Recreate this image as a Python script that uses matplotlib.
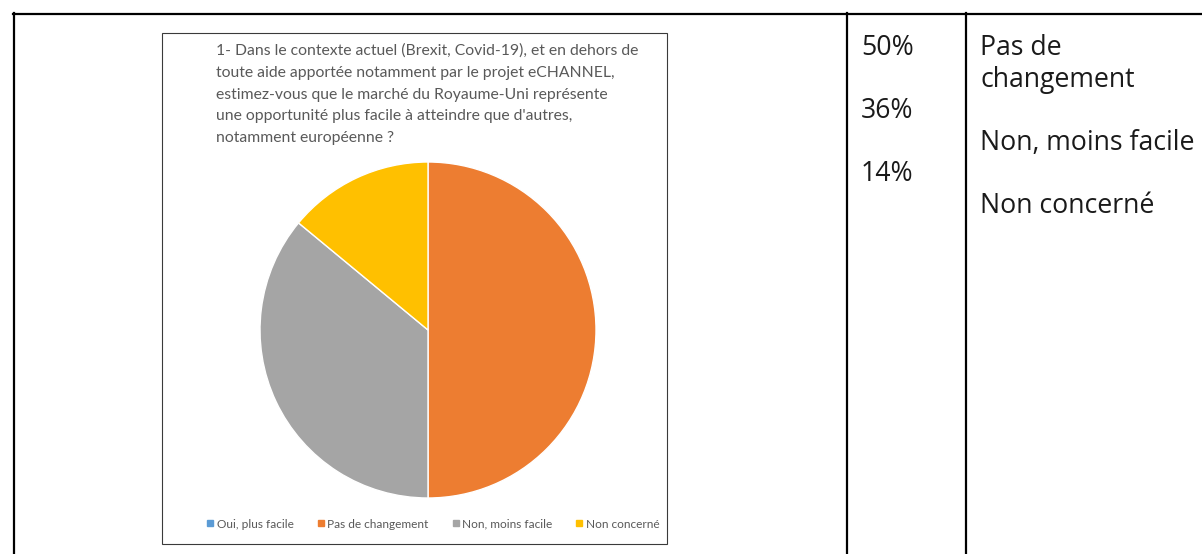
import matplotlib
matplotlib.use('Agg')
import matplotlib.pyplot as plt
from matplotlib.lines import Line2D
from matplotlib.patches import Rectangle

W, H = 1202, 554

# survey answers and shares
categories = ['Oui, plus facile', 'Pas de changement', 'Non, moins facile', 'Non concerné']
shares = [0, 50, 36, 14]
colors = ['#5B9BD5', '#ED7D31', '#A5A5A5', '#FFC000']

question_lines = [
    "1- Dans le contexte actuel (Brexit, Covid-19), et en dehors de",
    "toute aide apportée notamment par le projet eCHANNEL,",
    "estimez-vous que le marché du Royaume-Uni représente",
    "une opportunité plus facile à atteindre que d'autres,",
    "notamment européenne ?",
]

# side table: one text line per row, blank lines between entries
pct_lines = ['50%', '', '36%', '', '14%']
label_lines = ['Pas de', 'changement', '', 'Non, moins facile', '', 'Non concerné']


def fx(px):
    return px / W


def fy(py):
    return 1 - py / H


fig = plt.figure(figsize=(W / 100, H / 100), dpi=100)

# table borders
line_kw = dict(color='black', linewidth=1.6, transform=fig.transFigure)
fig.add_artist(Line2D([fx(13), fx(W)], [fy(14), fy(14)], **line_kw))
for xv in (14, 847, 966):
    fig.add_artist(Line2D([fx(xv), fx(xv)], [fy(13), fy(H)], **line_kw))

# chart frame
fig.add_artist(Rectangle((fx(162), fy(544)), fx(667) - fx(162), fy(33) - fy(544),
                         transform=fig.transFigure, fill=False,
                         edgecolor='#3a3a3a', linewidth=0.8))

for i, line in enumerate(question_lines):
    fig.text(fx(216), fy(55 + i * 21.8), line, ha='left', va='baseline',
             fontsize=11.3, family='Lato', color='#595959')

# pie
ax = fig.add_axes([fx(260), fy(498), fx(596) - fx(260), fy(162) - fy(498)])
ax.pie(shares, colors=colors, startangle=90, counterclock=False, radius=1,
       wedgeprops=dict(edgecolor='white', linewidth=1))
ax.set_xlim(-1, 1)
ax.set_ylim(-1, 1)
ax.set_aspect('equal')
ax.axis('off')

handles = [Line2D([], [], marker='s', linestyle='none', markersize=4.5,
                  markerfacecolor=c, markeredgecolor=c) for c in colors]
fig.legend(handles, categories, loc='center', bbox_to_anchor=(fx(432), fy(524)),
           ncol=4, frameon=False, handletextpad=0.05, columnspacing=1.75,
           handlelength=1.0, prop=dict(family='Lato', size=8.6),
           labelcolor='#595959')

# side table text
step = 31.6
for i, txt in enumerate(pct_lines):
    if txt:
        fig.text(fx(861), fy(55 + i * step), txt, ha='left', va='baseline',
                 fontsize=19.2, family='Open Sans', color='#1a1a1a')
for i, txt in enumerate(label_lines):
    if txt:
        fig.text(fx(980), fy(55 + i * step), txt, ha='left', va='baseline',
                 fontsize=19.2, family='Open Sans', color='#1a1a1a')

fig.savefig('out.png', dpi=100)
